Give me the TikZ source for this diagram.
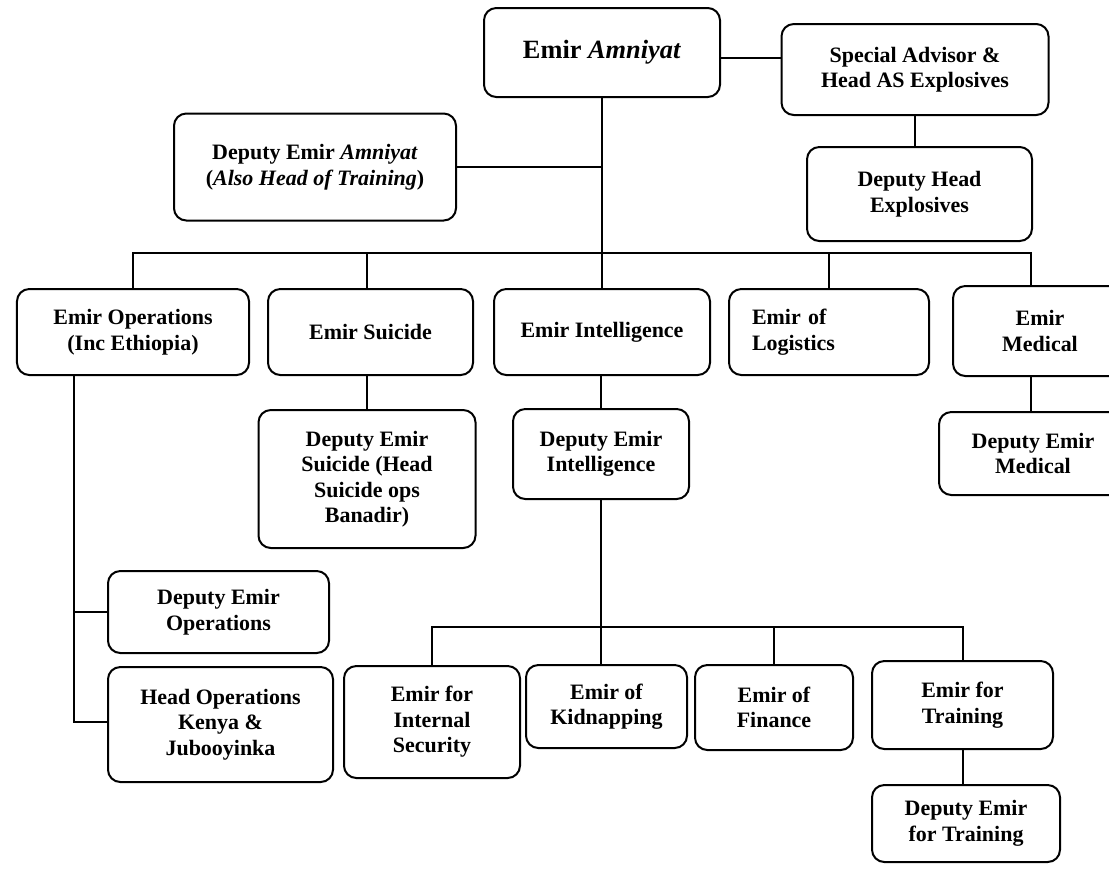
\documentclass[tikz,border=0pt]{standalone}
\usepackage{fontspec}
\setmainfont{Liberation Serif}
\tikzset{
  box/.style={draw, rounded corners=7pt, align=center, inner sep=0pt,
    font=\bfseries\fontsize{12.5}{14.5}\selectfont}
}
\begin{document}
\begin{tikzpicture}[x=0.2mm, y=-0.2mm, line width=0.4mm]
      \useasboundingbox (0,0) rectangle (1109,868);
      %top
      \node[box, minimum width=47.2mm, minimum height=17.8mm, font=\bfseries\fontsize{15}{18}\selectfont] (amn) at (602,52.5) {Emir \textit{Amniyat}};
      \node[box, minimum width=53.4mm, minimum height=18.2mm] (adv) at (915,69.5) {Special Advisor \&\\Head AS Explosives};
      \node[box, minimum width=45mm, minimum height=18.8mm] (dhe) at (919.5,194) {Deputy Head\\Explosives};
      \node[box, minimum width=56.4mm, minimum height=21.4mm] (dam) at (315,167) {Deputy Emir \textit{Amniyat}\\(\textit{Also Head of Training})};
      %emirs
      \node[box, minimum width=46.4mm, minimum height=17.2mm] (ops) at (133,332) {Emir Operations\\(Inc Ethiopia)};
      \node[box, minimum width=41mm, minimum height=17.2mm] (sui) at (370.5,332) {Emir Suicide};
      \node[box, minimum width=43.2mm, minimum height=17.2mm] (intel) at (602,332) {Emir Intelligence};
      \node[box, minimum width=40mm, minimum height=17.2mm, text width=30.8mm, align=left] (log) at (829,332) {Emir of\\Logistics};
      \node[box, minimum width=34.8mm, minimum height=18mm] (med) at (1040,331) {Emir\\Medical};
      %deputies
      \node[box, minimum width=43.4mm, minimum height=27.6mm] (dsui) at (367,479) {Deputy Emir\\Suicide (Head\\Suicide ops\\Banadir)};
      \node[box, minimum width=35.2mm, minimum height=18mm] (dint) at (601,454) {Deputy Emir\\Intelligence};
      \node[box, minimum width=37.6mm, minimum height=16.6mm] (dmed) at (1033,453.5) {Deputy Emir\\Medical};
      \node[box, minimum width=44.2mm, minimum height=16.4mm] (dops) at (218.5,612) {Deputy Emir\\Operations};
      \node[box, minimum width=45mm, minimum height=23mm] (hok) at (220.5,724.5) {Head Operations\\Kenya \&\\Jubooyinka};
      %intelligence
      \node[box, minimum width=35.2mm, minimum height=22.4mm] (isec) at (432,722) {Emir for\\Internal\\Security};
      \node[box, minimum width=32.2mm, minimum height=16.6mm] (kid) at (606.5,706.5) {Emir of\\Kidnapping};
      \node[box, minimum width=31.6mm, minimum height=17mm] (fin) at (774,707.5) {Emir of\\Finance};
      \node[box, minimum width=36.2mm, minimum height=17.6mm] (trn) at (962.5,705) {Emir for\\Training};
      \node[box, minimum width=37.6mm, minimum height=15.4mm] (dtrn) at (966,823.5) {Deputy Emir\\for Training};
      %links
      \coordinate (sa) at (750,58);
      \coordinate (bus) at (1031,253);
      \coordinate (bus2) at (963,627);
      \coordinate (ov) at (74,722);
      \draw (sa -| amn.east) -- (sa -| adv.west);
      \draw (adv.south) -- (adv.south |- dhe.north);
      \draw (amn.south) -- (intel.north);
      \draw (dam.east) -- (dam.east -| amn.south);
      \draw (ops.north) |- (bus) -- (bus |- med.north);
      \draw (dsui.north |- bus) -- (dsui.north |- sui.north);
      \draw (log.north) -- (log.north |- bus);
      \draw (dsui.north |- sui.south) -- (dsui.north);
      \draw (dint.north |- intel.south) -- (dint.north);
      \draw (bus |- med.south) -- (bus |- dmed.north);
      \draw (ov |- ops.south) -- (ov) -- (ov -| hok.west);
      \draw (ov |- dops.west) -- (dops.west);
      \draw (dint.south) -- (dint.south |- kid.north);
      \draw (isec.north) |- (bus2) -- (bus2 |- trn.north);
      \draw (fin.north) -- (fin.north |- bus2);
      \draw (bus2 |- trn.south) -- (bus2 |- dtrn.north);
\end{tikzpicture}
\end{document}
